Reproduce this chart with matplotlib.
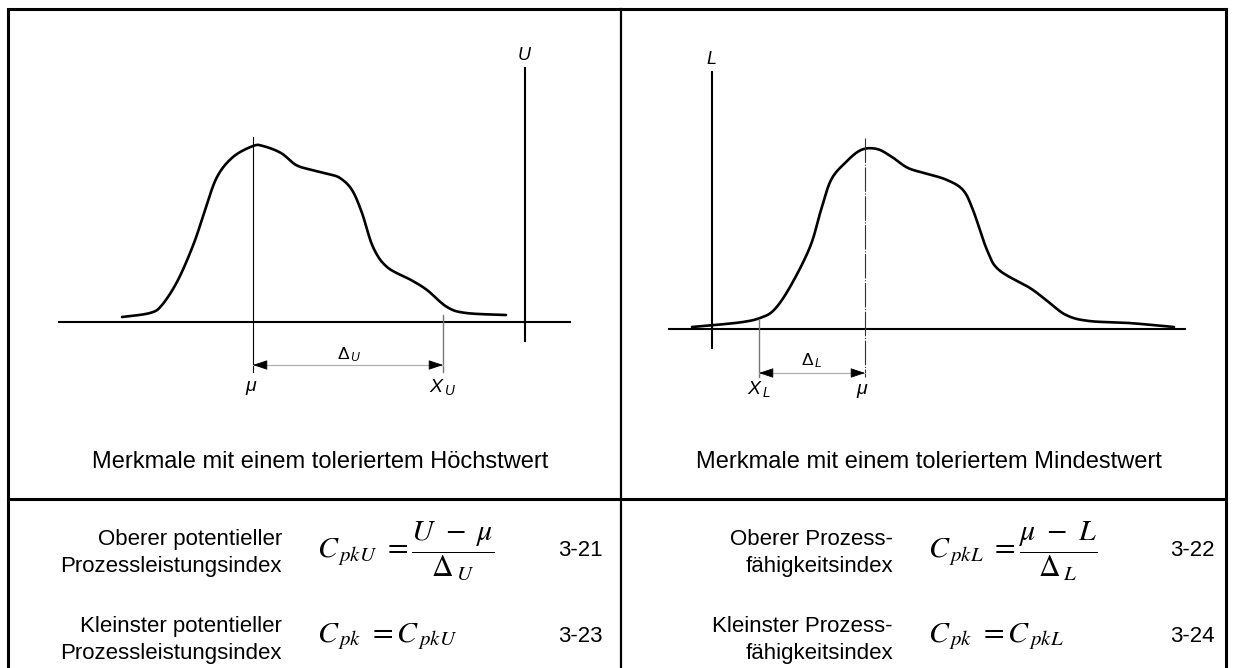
import numpy as np
import matplotlib
matplotlib.use("Agg")
import matplotlib.pyplot as plt

plt.rcParams['font.family'] = ['Liberation Sans', 'DejaVu Sans']
plt.rcParams['mathtext.fontset'] = 'custom'
plt.rcParams['mathtext.it'] = 'Liberation Sans:italic'
plt.rcParams['mathtext.rm'] = 'Liberation Sans'

# density curves (pixel units of the drawing)
left_x = [122, 150, 162, 178, 194, 205, 217, 233, 253, 263, 281, 296, 312, 328,
          340, 352, 362, 373, 387, 411, 427, 447, 466, 506]
left_y = [317, 313, 305, 280, 243, 210, 177, 157, 146, 146, 153, 165, 170, 174,
          178, 190, 213, 247, 267, 280, 290, 307, 313, 315]
right_x = [692, 715, 743, 760, 774, 790, 810, 821, 831, 845, 861, 877, 892, 908,
           928, 947, 963, 973, 987, 999, 1030, 1046, 1066, 1089, 1129, 1174]
right_y = [327, 325, 322, 318, 310, 287, 247, 210, 180, 163, 150, 149, 157, 168,
           174, 180, 190, 210, 250, 270, 288, 300, 315, 321, 323, 327]

panel_titles = ["Merkmale mit einem toleriertem Höchstwert",
                "Merkmale mit einem toleriertem Mindestwert"]
row_labels_left = [["Oberer potentieller", "Prozessleistungsindex"],
                   ["Kleinster potentieller", "Prozessleistungsindex"]]
row_labels_right = [["Oberer Prozess-", "fähigkeitsindex"],
                    ["Kleinster Prozess-", "fähigkeitsindex"]]
formulas_left = [r"$C_{\,pkU}\ =\dfrac{U\ -\ \mu}{\Delta_{\,U}}$", r"$C_{\,pk}\ =C_{\,pkU}$"]
formulas_right = [r"$C_{\,pkL}\ =\dfrac{\mu\ -\ L}{\Delta_{\,L}}$", r"$C_{\,pk}\ =C_{\,pkL}$"]
eq_left = ["3-21", "3-23"]
eq_right = ["3-22", "3-24"]


def smooth(xs, ys, n=12):
    # Catmull-Rom pass through the read points, just for drawing
    p = np.column_stack([xs, ys]).astype(float)
    p = np.vstack([p[0], p, p[-1]])
    out = []
    t = np.linspace(0, 1, n, endpoint=False)[:, None]
    for i in range(1, len(p) - 2):
        p0, p1, p2, p3 = p[i - 1], p[i], p[i + 1], p[i + 2]
        seg = 0.5 * ((2 * p1) + (-p0 + p2) * t + (2 * p0 - 5 * p1 + 4 * p2 - p3) * t ** 2
                     + (-p0 + 3 * p1 - 3 * p2 + p3) * t ** 3)
        out.append(seg)
    out.append(p[-2][None, :])
    out = np.vstack(out)
    return out[:, 0], out[:, 1]


def dim_arrow(ax, x0, x1, y):
    ax.plot([x0, x1], [y, y], color="#b0b0b0", lw=0.9)
    for a, b in [(x0, x0 + 12), (x1, x1 - 12)]:
        ax.annotate("", xy=(a, y), xytext=(b, y),
                    arrowprops=dict(arrowstyle="-|>,head_length=0.9,head_width=0.3",
                                    color="black", lw=0.6, shrinkA=0, shrinkB=0))


fig = plt.figure(figsize=(12.34, 6.68), dpi=100)
ax = fig.add_axes([0, 0, 1, 1])
ax.set_xlim(0, 1234)
ax.set_ylim(668, 0)
ax.axis("off")

# table frame
ax.plot([8, 8, 1226, 1226], [668, 9, 9, 668], color="black", lw=2.2, solid_joinstyle="miter")
ax.plot([621, 621], [9, 668], color="black", lw=1.6)
ax.plot([8, 1226], [499, 499], color="black", lw=2.2)

# left panel
ax.plot([59, 570], [322, 322], color="black", lw=1.5)
ax.plot([524.5, 524.5], [68, 341], color="black", lw=1.5)
ax.text(525, 55, "$U$", ha="center", va="center", fontsize=13)
cx, cy = smooth(left_x, left_y)
ax.plot(cx, cy, color="black", lw=1.9, solid_capstyle="round")
ax.plot([253, 253], [137, 372], color="black", lw=0.8)
ax.plot([443, 443], [315, 372], color="#777777", lw=1.0)
dim_arrow(ax, 253, 443, 365)
ax.text(349, 355, r"$\Delta_{\,U}$", ha="center", va="center", fontsize=12.5)
ax.text(251, 388, r"$\mu$", ha="center", va="center", fontsize=14)
ax.text(443, 387, r"$X_{\,U}$", ha="center", va="center", fontsize=14)
ax.text(320, 462, panel_titles[0], ha="center", va="center", fontsize=17)

# right panel
ax.plot([669, 1185], [329, 329], color="black", lw=1.5)
ax.plot([712, 712], [72, 348], color="black", lw=1.5)
ax.text(711, 60, "$L$", ha="center", va="center", fontsize=13)
cx, cy = smooth(right_x, right_y)
ax.plot(cx, cy, color="black", lw=1.9, solid_capstyle="round")
ax.plot([865, 865], [138, 377], color="#333333", lw=0.8, dashes=[22, 1.5, 1, 1.5])
ax.plot([759, 759], [320, 377], color="#777777", lw=1.0)
dim_arrow(ax, 759, 865, 373)
ax.text(812, 361, r"$\Delta_{\,L}$", ha="center", va="center", fontsize=12.5)
ax.text(862, 391, r"$\mu$", ha="center", va="center", fontsize=14)
ax.text(759, 389, r"$X_{\,L}$", ha="center", va="center", fontsize=14)
ax.text(929, 462, panel_titles[1], ha="center", va="center", fontsize=17)

# formula rows
row_base = [545, 632]
row_mid = [551, 637]
for i in range(2):
    ax.text(282, row_base[i], row_labels_left[i][0], ha="right", va="baseline", fontsize=16)
    ax.text(282, row_base[i] + 27, row_labels_left[i][1], ha="right", va="baseline", fontsize=16)
    ax.text(893, row_base[i], row_labels_right[i][0], ha="right", va="baseline", fontsize=16)
    ax.text(893, row_base[i] + 27, row_labels_right[i][1], ha="right", va="baseline", fontsize=16)
    ax.text(317, row_mid[i], formulas_left[i], ha="left", va="center", fontsize=21.5,
            math_fontfamily="stix")
    ax.text(928, row_mid[i], formulas_right[i], ha="left", va="center", fontsize=21.5,
            math_fontfamily="stix")
    ax.text(580, row_mid[i], eq_left[i], ha="center", va="center", fontsize=16)
    ax.text(1192, row_mid[i], eq_right[i], ha="center", va="center", fontsize=16)

fig.savefig("out.png", dpi=100)
